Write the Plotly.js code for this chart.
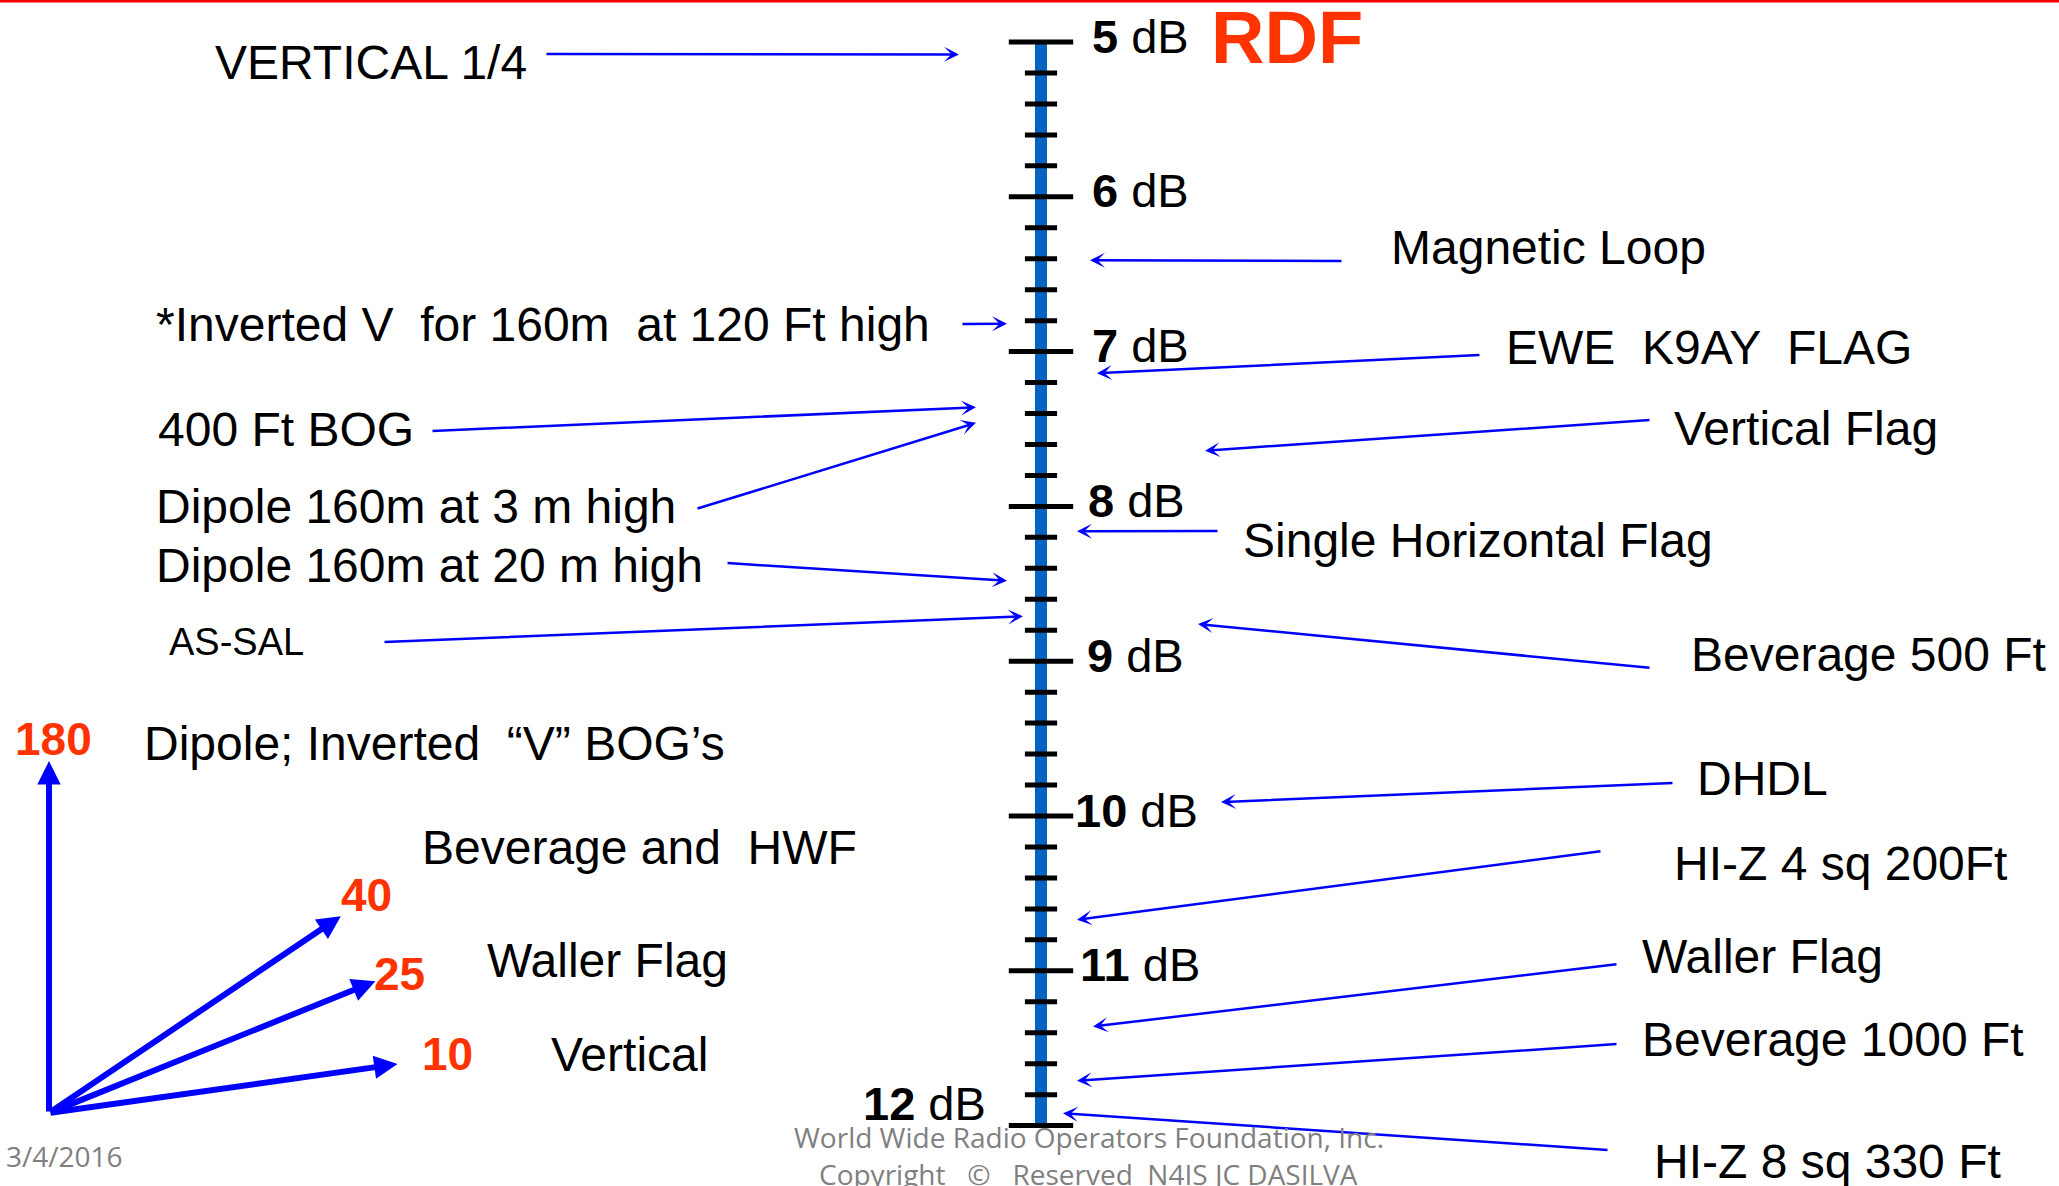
<!DOCTYPE html>
<html><head><meta charset="utf-8">
<script src="https://cdn.plot.ly/plotly-3.0.1.min.js"></script>
<style>html,body{margin:0;padding:0;background:#fff;overflow:hidden}#chart{width:2059px;height:1186px}</style>
</head><body><div id="chart"></div>
<script>
// ---------------- data ----------------
const majorDb = [5, 6, 7, 8, 9, 10, 11, 12];
const minorDb = [5.2, 5.4, 5.6, 5.8, 6.2, 6.4, 6.6, 6.8, 7.2, 7.4, 7.6, 7.8,
                 8.2, 8.4, 8.6, 8.8, 9.2, 9.4, 9.6, 9.8, 10.2, 10.4, 10.6, 10.8,
                 11.2, 11.4, 11.6, 11.8];
const antennaNames = ['VERTICAL 1/4', 'Magnetic Loop', '*Inverted V \u00a0for 160m \u00a0at 120 Ft high',
  'EWE \u00a0K9AY \u00a0FLAG', 'Vertical Flag', '400 Ft BOG', 'Dipole 160m at 3 m high',
  'Single Horizontal Flag', 'Dipole 160m at 20 m high', 'AS-SAL', 'Beverage 500 Ft', 'DHDL',
  'HI-Z 4 sq 200Ft', 'Waller Flag', 'Beverage 1000 Ft', 'HI-Z 8 sq 330 Ft'];
const antennaDb = [5.08, 6.41, 6.82, 7.14, 7.64, 7.36, 7.46, 8.16, 8.48, 8.71, 8.76, 9.91,
  10.67, 11.36, 11.71, 11.92];
const beamWidths = ['180', '40', '25', '10'];
const beamAngles = [90, 34, 22, 8];          // drawn arrow direction (deg)
const beamTypes = ['Dipole; Inverted \u00a0\u201cV\u201d BOG\u2019s', 'Beverage and \u00a0HWF', 'Waller Flag', 'Vertical'];

// ---------------- layout placement (pixels) ----------------
const W = 2059, H = 1186, Y5 = 42, PPD = 154.8;
const py2db = py => 5 + (py - Y5) / PPD;
const SCALE_X = 1041;
const labelPos = [[213,62],[1389,247],[154,324],[1504,347],[1672,428],[156,429],[154,506],
  [1241,540],[154,565],[167,642],[1689,654],[1695,778],[1672,863],[1640,956],[1640,1039],[1652,1161]];
const labelSize = [48,48,48,48,48,48,48,48,48,38,48,48,48,48,48,48];
const arrowTail = [[545,54],[1343,261],[961,324],[1481,355],[1651,420],[431,431],[696,509],
  [1219,531],[726,563],[383,642],[1651,668],[1674,783],[1602,851],[1618,964],[1618,1044],[1609,1150]];
const arrowHeadX = [959,1090,1007,1097,1205,976,976,1077,1007,1023,1198,1221,1077,1093,1077,1063];
const dbLabelX = [1090,1090,1090,1086,1085,1073,1078,861];
const beamOrigin = [49, 1113], beamLen = 352;
const beamNumPos = [[13,739],[339,895],[372,974],[420,1054]];
const beamTypePos = [[142,743],[420,847],[485,960],[549,1054]];

const FONT = 'Liberation Sans, Arial, sans-serif';
const RED = '#FF3300', BLUE = '#0000FF';

const traces = [
  {x: [SCALE_X, SCALE_X], y: [majorDb[0], majorDb[majorDb.length-1]], mode: 'lines',
   line: {color: '#0563C1', width: 12}, hoverinfo: 'skip'},
  {x: minorDb.map(() => SCALE_X), y: minorDb, mode: 'markers', hoverinfo: 'skip',
   marker: {symbol: 'line-ew', size: 23, line: {width: 5, color: '#000'}}},
  {x: majorDb.map(() => SCALE_X), y: majorDb, mode: 'markers', hoverinfo: 'skip',
   marker: {symbol: 'line-ew', size: 46, line: {width: 5, color: '#000'}}}
];

const ann = [];
// antenna labels + arrows
antennaNames.forEach((n, i) => {
  ann.push({text: n, x: labelPos[i][0], y: py2db(labelPos[i][1]), xref: 'x', yref: 'y',
    xanchor: 'left', yanchor: 'middle', showarrow: false,
    font: {family: FONT, size: labelSize[i], color: '#000'}});
  ann.push({text: '', x: arrowHeadX[i], y: antennaDb[i], ax: arrowTail[i][0], ay: py2db(arrowTail[i][1]),
    xref: 'x', yref: 'y', axref: 'x', ayref: 'y', showarrow: true, arrowhead: 3, arrowsize: 1,
    arrowwidth: 2.5, arrowcolor: BLUE, standoff: 0});
});
// dB labels
majorDb.forEach((v, i) => {
  const last = i === majorDb.length - 1;
  ann.push({text: '<b>' + v + '</b> dB', x: dbLabelX[i], y: last ? py2db(1103) : v, yshift: last ? 0 : 6,
    xref: 'x', yref: 'y', xanchor: 'left', yanchor: 'middle', showarrow: false,
    font: {family: FONT, size: 47, color: '#000'}});
});
// RDF
ann.push({text: '<b>RDF</b>', x: 1209, y: py2db(37), xref: 'x', yref: 'y', xanchor: 'left', yanchor: 'middle',
  showarrow: false, font: {family: FONT, size: 74, color: RED}});
// beam-width vectors
const oy = py2db(beamOrigin[1]);
beamAngles.forEach((a, i) => {
  const r = a * Math.PI / 180;
  const tx = beamOrigin[0] + beamLen * Math.cos(r);
  const ty = beamOrigin[1] - beamLen * Math.sin(r);
  ann.push({text: '', x: tx, y: py2db(ty), ax: beamOrigin[0], ay: oy, xref: 'x', yref: 'y',
    axref: 'x', ayref: 'y', showarrow: true, arrowhead: 2, arrowsize: 0.78, arrowwidth: 6,
    arrowcolor: BLUE, standoff: 0});
  ann.push({text: '<b>' + beamWidths[i] + '</b>', x: beamNumPos[i][0], y: py2db(beamNumPos[i][1]),
    xref: 'x', yref: 'y', xanchor: 'left', yanchor: 'middle', showarrow: false,
    font: {family: FONT, size: 46, color: RED}});
  ann.push({text: beamTypes[i], x: beamTypePos[i][0], y: py2db(beamTypePos[i][1]),
    xref: 'x', yref: 'y', xanchor: 'left', yanchor: 'middle', showarrow: false,
    font: {family: FONT, size: 48, color: '#000'}});
});
// footer
const FOOT = {family: 'Open Sans, sans-serif', size: 28, color: '#808080'};
ann.push({text: '3/4/2016', x: 4, y: py2db(1156), xref: 'x', yref: 'y', xanchor: 'left', yanchor: 'middle', showarrow: false, font: FOOT});
ann.push({text: 'World Wide Radio Operators Foundation, Inc.', x: 1089, y: py2db(1137), xref: 'x', yref: 'y', xanchor: 'center', yanchor: 'middle', showarrow: false, font: FOOT});
ann.push({text: 'Copyright \u00a0 \u00a9 \u00a0 Reserved \u00a0N4IS JC DASILVA', x: 1088, y: py2db(1174), xref: 'x', yref: 'y', xanchor: 'center', yanchor: 'middle', showarrow: false, font: FOOT});

const layout = {
  width: W, height: H, margin: {l: 0, r: 0, t: 0, b: 0, pad: 0},
  paper_bgcolor: '#fff', plot_bgcolor: '#fff', showlegend: false,
  xaxis: {range: [0, W], visible: false, fixedrange: true},
  yaxis: {range: [py2db(H), py2db(0)], visible: false, fixedrange: true},
  shapes: [{type: 'line', xref: 'paper', yref: 'paper', x0: 0, x1: 1, y0: 1, y1: 1,
            line: {color: '#FF0000', width: 5}}],
  annotations: ann
};
Plotly.newPlot('chart', traces, layout, {staticPlot: true, displayModeBar: false});
</script></body></html>
